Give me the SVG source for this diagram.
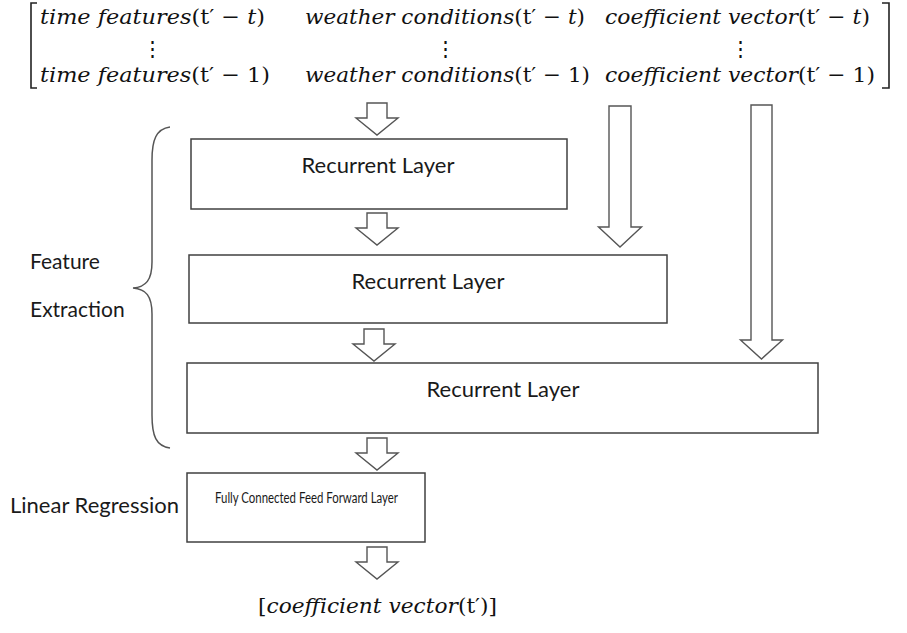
<svg xmlns="http://www.w3.org/2000/svg" width="907" height="633" viewBox="0 0 907 633">
<style>
.box{fill:#fff;stroke:#404040;stroke-width:1.5}
.arr{fill:#fff;stroke:#555;stroke-width:1.4;stroke-linejoin:miter}
.lbl{font-family:Lato,"Open Sans",sans-serif;fill:#1a1a1a}
.math{font-family:"DejaVu Serif","Liberation Serif",serif;font-size:21px;fill:#111}
.it{font-style:italic}
.brk{fill:none;stroke:#222;stroke-width:1.6}
.brace{fill:none;stroke:#555;stroke-width:1.5}
</style>
<rect width="907" height="633" fill="#fff"/>
<g id="input-matrix">
<path class="brk" d="M37,3 H31 V88 H37"/>
<path class="brk" d="M882,3 H889 V88 H882"/>
<text class="math" x="40" y="24" textLength="225" lengthAdjust="spacingAndGlyphs"><tspan class="it">time features</tspan>(t′ − <tspan class="it">t</tspan>)</text>
<text class="math" x="305" y="24" textLength="280" lengthAdjust="spacingAndGlyphs"><tspan class="it">weather conditions</tspan>(t′ − <tspan class="it">t</tspan>)</text>
<text class="math" x="605" y="24" textLength="265" lengthAdjust="spacingAndGlyphs"><tspan class="it">coefficient vector</tspan>(t′ − <tspan class="it">t</tspan>)</text>
<text class="math" x="152" y="56" text-anchor="middle">⋮</text>
<text class="math" x="445" y="56" text-anchor="middle">⋮</text>
<text class="math" x="740" y="56" text-anchor="middle">⋮</text>
<text class="math" x="40" y="82" textLength="230" lengthAdjust="spacingAndGlyphs"><tspan class="it">time features</tspan>(t′ − 1)</text>
<text class="math" x="305" y="82" textLength="285" lengthAdjust="spacingAndGlyphs"><tspan class="it">weather conditions</tspan>(t′ − 1)</text>
<text class="math" x="605" y="82" textLength="270" lengthAdjust="spacingAndGlyphs"><tspan class="it">coefficient vector</tspan>(t′ − 1)</text>
</g>
<g id="connectors">
<path class="arr" d="M367,103 H387 V118 H398 L377,135 L356,118 H367 Z"/>
<path class="arr" d="M367,213 H387 V228 H398 L377,245 L356,228 H367 Z"/>
<path class="arr" d="M364,329 H384 V344 H395 L374,361 L353,344 H364 Z"/>
<path class="arr" d="M367,438 H387 V453 H398 L377,470 L356,453 H367 Z"/>
<path class="arr" d="M367,547 H387 V562 H398 L377,579 L356,562 H367 Z"/>
<path class="arr" d="M609,106 H631 V227 H641.5 L620,247 L598.5,227 H609 Z"/>
<path class="arr" d="M751,105 H772 V340 H782.5 L761.5,359 L740.5,340 H751 Z"/>
</g>
<g id="rnn1">
<rect class="box" x="191" y="139" width="376" height="70"/>
<text class="lbl" x="378" y="173" font-size="22" text-anchor="middle">Recurrent Layer</text>
</g>
<g id="rnn2">
<rect class="box" x="189" y="255" width="478" height="68"/>
<text class="lbl" x="428" y="289" font-size="22" text-anchor="middle">Recurrent Layer</text>
</g>
<g id="rnn3">
<rect class="box" x="187" y="363" width="631" height="70"/>
<text class="lbl" x="503" y="397" font-size="22" text-anchor="middle">Recurrent Layer</text>
</g>
<g id="fc">
<rect class="box" x="187" y="473" width="238" height="69"/>
<text class="lbl" x="215" y="503" font-size="16" textLength="183" lengthAdjust="spacingAndGlyphs">Fully Connected Feed Forward Layer</text>
</g>
<g id="feature-extraction">
<path class="brace" d="M170,127 C156,129 152,140 152,160 V262 C152,280 146,287 133,288 C146,289 152,296 152,314 V415 C152,436 156,446 170,448"/>
<text class="lbl" x="30" y="269" font-size="21">Feature</text>
<text class="lbl" x="30" y="317" font-size="21">Extraction</text>
</g>
<g id="linear-regression">
<text class="lbl" x="10" y="513" font-size="22">Linear Regression</text>
</g>
<g id="output">
<text class="math" x="258" y="613" textLength="239" lengthAdjust="spacingAndGlyphs">[<tspan class="it">coefficient vector</tspan>(t′)]</text>
</g>
</svg>
